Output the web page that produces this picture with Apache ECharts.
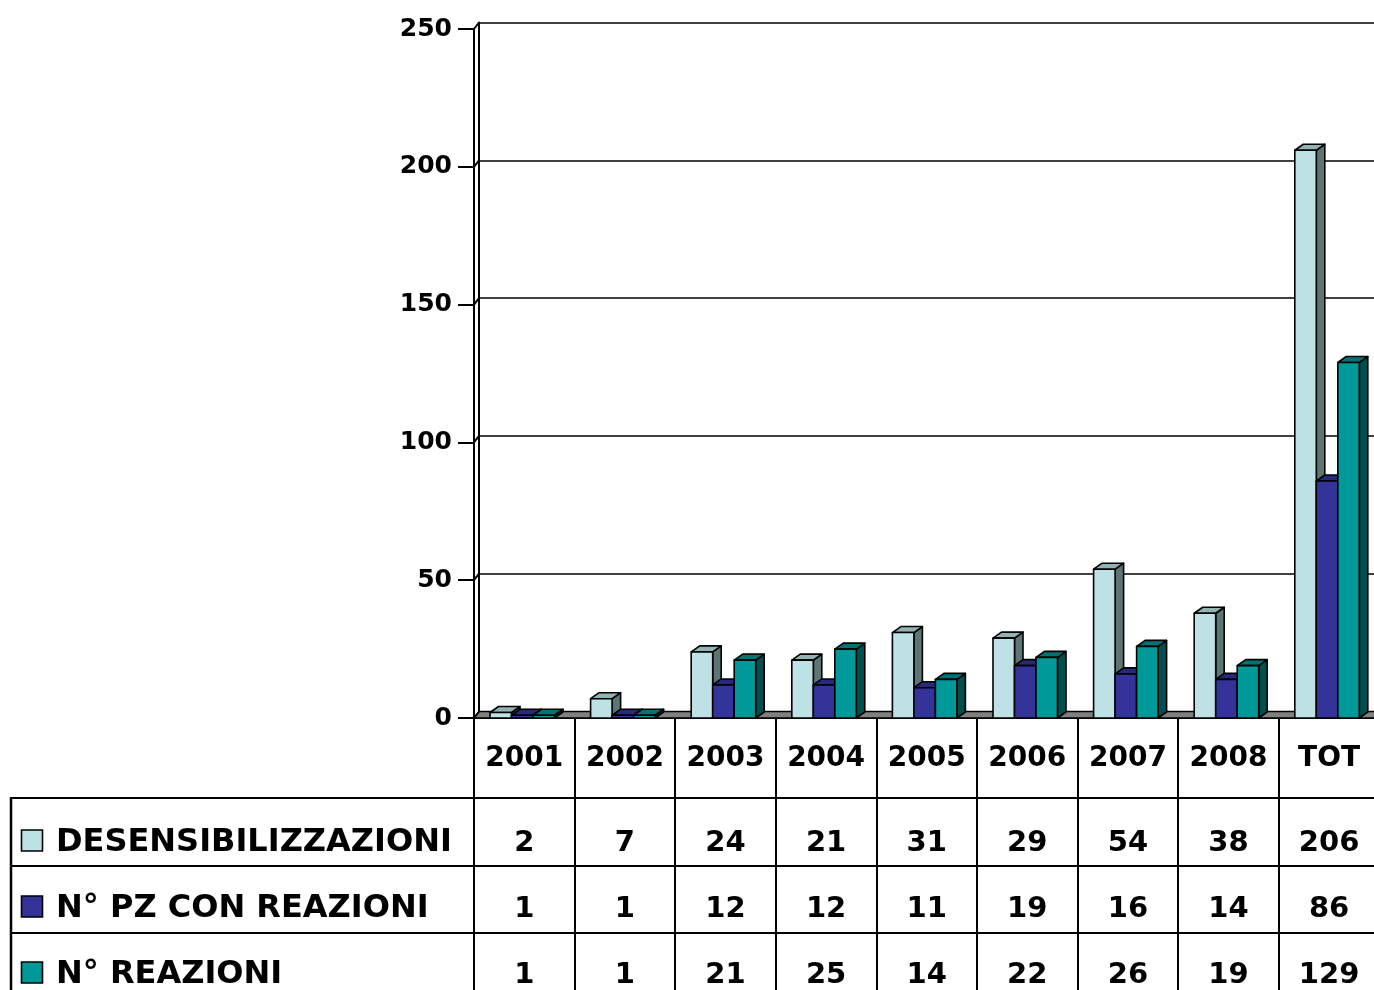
<!DOCTYPE html>
<html>
<head>
<meta charset="utf-8">
<script src="https://cdn.jsdelivr.net/npm/echarts@6/dist/echarts.min.js"></script>
<style>
  html, body { margin: 0; padding: 0; background: #fff; overflow: hidden; }
  #chart { width: 1392px; height: 990px; }
</style>
</head>
<body>
<div id="chart"></div>
<script>
// Yearly counts, one array per series
const categories = ['2001', '2002', '2003', '2004', '2005', '2006', '2007', '2008', 'TOT'];
const seriesNames = ['DESENSIBILIZZAZIONI', 'N° PZ CON REAZIONI', 'N° REAZIONI'];
const desensibilizzazioni = [2, 7, 24, 21, 31, 29, 54, 38, 206];
const pzConReazioni = [1, 1, 12, 12, 11, 19, 16, 14, 86];
const reazioni = [1, 1, 21, 25, 14, 22, 26, 19, 129];
const yTicks = [0, 50, 100, 150, 200, 250];

const seriesValues = [desensibilizzazioni, pzConReazioni, reazioni];

// face colours for the pseudo-3D columns: front, side, top
const palette = [
  { front: '#BDE1E5', side: '#5C7676', top: '#92B3B4' },
  { front: '#333399', side: '#1B1B52', top: '#29297C' },
  { front: '#009999', side: '#004E4E', top: '#007474' }
];

// layout (the plot runs slightly past the right edge of the visible page)
const PLOT_LEFT = 474, PLOT_TOP = 29, PLOT_H = 689, CAT_W = 100.6;
const PLOT_W = CAT_W * categories.length;
const WALL_DX = 5, WALL_DY = 6.5;       // back wall offset
const BAR_DX = 8.5, BAR_DY = 6;         // column depth
const BAR_OFF = 16, BAR_W = 21.5;       // column placement inside a category
const FONT = '"DejaVu Sans", sans-serif';
const TABLE_TOP = PLOT_TOP + PLOT_H + 80;  // first data row line
const ROW_LINES = [TABLE_TOP, TABLE_TOP + 68, TABLE_TOP + 135];
const ROW_CENTERS = [843, 909, 975];
const TABLE_LEFT = 11;
const PAGE_W = 1374;

const chart = echarts.init(document.getElementById('chart'), null, { renderer: 'canvas' });

function columnRenderer(s) {
  return function (params, api) {
    const idx = api.value(0);
    const v = api.value(1);
    const base = api.coord([idx, 0]);
    const top = api.coord([idx, v]);
    const band = api.size([1, 0])[0];
    const x0 = base[0] - band / 2 + BAR_OFF + s * BAR_W;
    const x1 = x0 + BAR_W;
    const yb = base[1], yt = top[1];
    const c = palette[s];
    const edge = { stroke: '#000', lineWidth: 1.6, lineJoin: 'round' };
    return {
      type: 'group',
      children: [
        {
          type: 'polygon',
          shape: { points: [[x1, yb], [x1, yt], [x1 + BAR_DX, yt - BAR_DY], [x1 + BAR_DX, yb - BAR_DY]] },
          style: Object.assign({ fill: c.side }, edge)
        },
        {
          type: 'polygon',
          shape: { points: [[x0, yt], [x1, yt], [x1 + BAR_DX, yt - BAR_DY], [x0 + BAR_DX, yt - BAR_DY]] },
          style: Object.assign({ fill: c.top }, edge)
        },
        {
          type: 'rect',
          shape: { x: x0, y: yt, width: BAR_W, height: yb - yt },
          style: Object.assign({ fill: c.front }, edge)
        },
        {
          // value cell of the data table under this category
          type: 'text',
          style: {
            text: String(v),
            x: base[0],
            y: ROW_CENTERS[s],
            align: 'center',
            verticalAlign: 'middle',
            textAlign: 'center',
            textVerticalAlign: 'middle',
            font: 'bold 29px ' + FONT,
            fill: '#000'
          }
        }
      ]
    };
  };
}

const columnSeries = seriesValues.map(function (vals, s) {
  return {
    name: seriesNames[s],
    type: 'custom',
    xAxisIndex: 0,
    yAxisIndex: 0,
    clip: false,
    z: 5,
    renderItem: columnRenderer(s),
    data: vals.map(function (v, i) { return [i, v]; })
  };
});

// floor of the plot
const floorSeries = {
  type: 'custom',
  xAxisIndex: 0,
  yAxisIndex: 0,
  clip: false,
  z: 3,
  renderItem: function (params, api) {
    const band = api.size([1, 0])[0];
    const a = api.coord([0, 0]);
    const b = api.coord([categories.length - 1, 0]);
    const xl = a[0] - band / 2, xr = b[0] + band / 2, y = a[1];
    return {
      type: 'polygon',
      shape: { points: [[xl, y], [xr, y], [xr + WALL_DX, y - WALL_DY], [xl + WALL_DX, y - WALL_DY]] },
      style: { fill: '#808080', stroke: '#000', lineWidth: 1.6 }
    };
  },
  data: [[0, 0]]
};

// short diagonals joining each tick to its gridline on the back wall
const tickLinkSeries = {
  type: 'custom',
  xAxisIndex: 0,
  yAxisIndex: 0,
  clip: false,
  z: 3,
  renderItem: function (params, api) {
    const band = api.size([1, 0])[0];
    const p = api.coord([0, api.value(1)]);
    const x = p[0] - band / 2;
    return {
      type: 'line',
      shape: { x1: x, y1: p[1], x2: x + WALL_DX, y2: p[1] - WALL_DY },
      style: { stroke: '#000', lineWidth: 2 }
    };
  },
  data: yTicks.map(function (v) { return [0, v]; })
};

// table rules and series keys
const tableGraphics = [];
ROW_LINES.forEach(function (y) {
  tableGraphics.push({
    type: 'line', z: 10,
    shape: { x1: TABLE_LEFT, y1: y, x2: PAGE_W + 20, y2: y },
    style: { stroke: '#000', lineWidth: 2 }
  });
});
tableGraphics.push({
  type: 'line', z: 10,
  shape: { x1: TABLE_LEFT, y1: TABLE_TOP - 1, x2: TABLE_LEFT, y2: 990 },
  style: { stroke: '#000', lineWidth: 2.5 }
});
seriesNames.forEach(function (name, s) {
  tableGraphics.push({
    type: 'rect', z: 10,
    shape: { x: 21.5, y: ROW_CENTERS[s] - 13, width: 21, height: 21 },
    style: { fill: palette[s].front, stroke: '#000', lineWidth: 1.6 }
  });
  tableGraphics.push({
    type: 'text', z: 10,
    style: {
      text: name, x: 56, y: ROW_CENTERS[s],
      align: 'left', verticalAlign: 'middle',
      textAlign: 'left', textVerticalAlign: 'middle',
      font: 'bold 32px ' + FONT, fill: '#000'
    }
  });
});

const option = {
  animation: false,
  backgroundColor: '#fff',
  grid: [
    { left: PLOT_LEFT, top: PLOT_TOP, width: PLOT_W, height: PLOT_H, containLabel: false },
    { left: PLOT_LEFT + WALL_DX, top: PLOT_TOP - WALL_DY, width: PLOT_W, height: PLOT_H, containLabel: false }
  ],
  xAxis: [
    {
      type: 'category',
      gridIndex: 0,
      data: categories,
      boundaryGap: true,
      axisLine: { show: true, lineStyle: { color: '#000', width: 2 } },
      axisTick: { show: true, interval: 0, length: 272, lineStyle: { color: '#000', width: 2 } },
      axisLabel: {
        interval: 0, margin: 41, verticalAlign: 'middle',
        color: '#000', fontFamily: FONT, fontWeight: 'bold', fontSize: 28
      },
      splitLine: { show: false }
    },
    {
      type: 'category',
      gridIndex: 1,
      data: categories,
      show: false
    }
  ],
  yAxis: [
    {
      type: 'value',
      gridIndex: 0,
      min: 0, max: 250, interval: 50,
      axisLine: { show: true, lineStyle: { color: '#000', width: 2 } },
      axisTick: { show: true, length: 16, lineStyle: { color: '#000', width: 2 } },
      axisLabel: {
        margin: 22, color: '#000', fontFamily: FONT, fontWeight: 'bold', fontSize: 25,
        formatter: function (v) { return yTicks.indexOf(v) >= 0 ? String(v) : ''; }
      },
      splitLine: { show: false }
    },
    {
      type: 'value',
      gridIndex: 1,
      min: 0, max: 250, interval: 50,
      axisLine: { show: true, lineStyle: { color: '#000', width: 2 } },
      axisTick: { show: false },
      axisLabel: { show: false },
      splitLine: { show: true, lineStyle: { color: '#000', width: 1.6 } }
    }
  ],
  series: [floorSeries, tickLinkSeries].concat(columnSeries),
  graphic: tableGraphics
};

chart.setOption(option);
</script>
</body>
</html>
